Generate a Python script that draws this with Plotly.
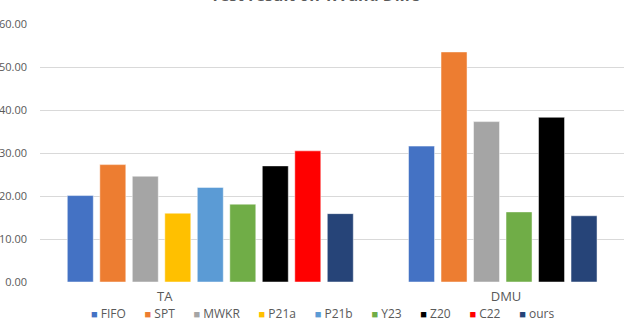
import plotly.graph_objects as go

CATEGORIES = ["TA", "DMU"]
SERIES = ["FIFO", "SPT", "MWKR", "P21a", "P21b", "Y23", "Z20", "C22", "ours"]
# one list per category, None = method not reported on that benchmark
TA_VALUES = [20.1, 27.3, 24.6, 16.0, 22.0, 18.1, 27.0, 30.5, 15.9]
DMU_VALUES = [31.6, 53.5, 37.3, None, None, 16.3, 38.3, None, 15.4]
Y_TICKS = [0, 10, 20, 30, 40, 50, 60]

COLORS = ["#4472C4", "#ED7D31", "#A5A5A5", "#FFC000", "#5B9BD5",
          "#70AD47", "#000000", "#FF0000", "#264478"]
TEXT_GREY = "#595959"
FONT = "Open Sans"

# layout of the slots along the x axis (one unit = one bar slot)
GROUP_START = [0.0, 10.5]
LABEL_POS = [2.6, 13.1]
BAR_WIDTH = 0.8

fig = go.Figure()

values_by_group = [TA_VALUES, DMU_VALUES]
xs = {name: [] for name in SERIES}
ys = {name: [] for name in SERIES}
for g, vals in enumerate(values_by_group):
    slot = 0
    for name, v in zip(SERIES, vals):
        if v is None:
            continue
        xs[name].append(GROUP_START[g] + slot)
        ys[name].append(v)
        slot += 1

for name, color in zip(SERIES, COLORS):
    fig.add_trace(
        go.Bar(
            x=xs[name],
            y=ys[name],
            name=name,
            width=BAR_WIDTH,
            marker=dict(color=color, line=dict(color="rgba(255,255,255,0.6)", width=0.8)),
            showlegend=False,
        )
    )

# legend drawn as one line of text, like the office chart legend
items = []
for name, color in zip(SERIES, COLORS):
    items.append(
        f"<span style='color:{color};font-size:11px'>■</span> {name}"
    )
legend_text = "&nbsp;&nbsp;&nbsp;&nbsp;&nbsp;&nbsp;".join(items)
fig.add_annotation(
    text=legend_text,
    xref="paper", yref="paper",
    x=0.483, y=-0.122,
    xanchor="center", yanchor="middle",
    showarrow=False,
    font=dict(family=FONT, size=12, color=TEXT_GREY),
)

fig.update_layout(
    width=640,
    height=322,
    margin=dict(l=40, r=16, t=24, b=40),
    paper_bgcolor="white",
    plot_bgcolor="white",
    barmode="overlay",
    showlegend=False,
    font=dict(family=FONT, color=TEXT_GREY),
    title=dict(
        text="<b>Test result on TA and DMU</b>",
        x=0.494, xanchor="center",
        xref="container", yref="container",
        y=1 - 1 / 322, yanchor="bottom",
        font=dict(family=FONT, size=16, color=TEXT_GREY),
    ),
)

fig.update_xaxes(
    range=[-1.24, 16.73],
    tickvals=LABEL_POS,
    ticktext=CATEGORIES,
    showgrid=False,
    zeroline=False,
    showline=False,
    ticks="",
    ticklabelstandoff=5,
    tickfont=dict(family=FONT, size=13, color=TEXT_GREY),
    automargin=False,
)
fig.update_yaxes(
    range=[0, 60],
    tickvals=Y_TICKS,
    tickformat=".2f",
    showgrid=True,
    gridcolor="#D9D9D9",
    gridwidth=1,
    zeroline=False,
    showline=False,
    ticks="",
    ticklabelstandoff=12,
    tickfont=dict(family=FONT, size=11, color=TEXT_GREY),
    automargin=False,
)

# the page's default body margin would push the figure 8px down and right
fig.write_html(
    "out.html",
    config={"displayModeBar": False},
    post_script="document.body.style.margin = '0';",
)
